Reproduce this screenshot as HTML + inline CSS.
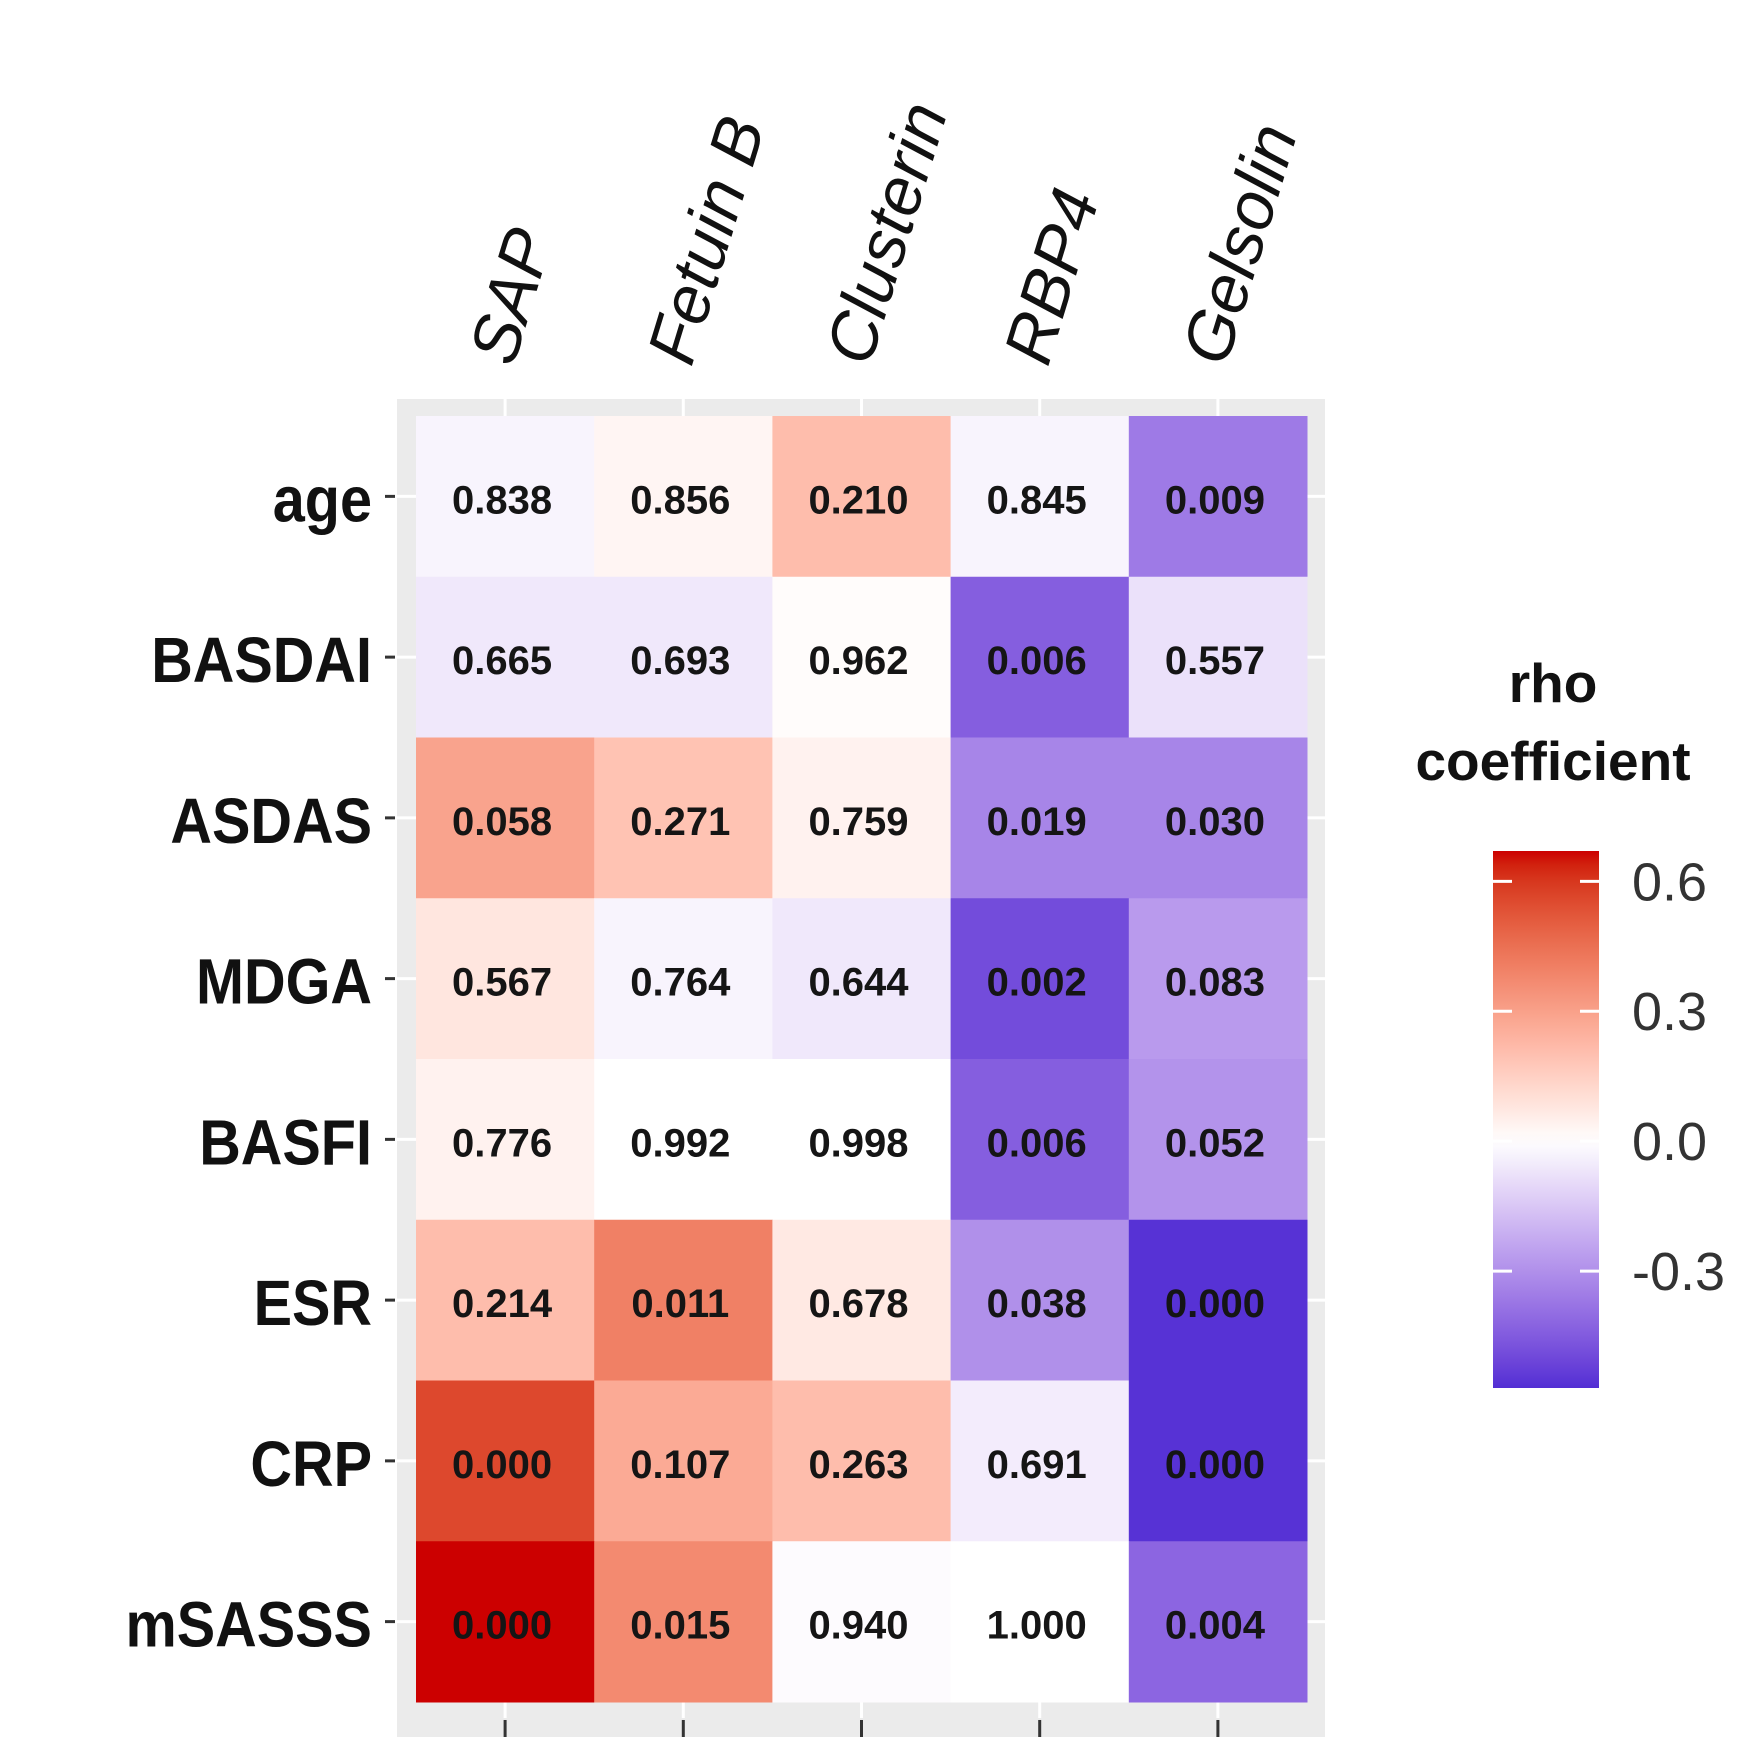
<!DOCTYPE html>
<html><head><meta charset="utf-8"><style>
html,body{margin:0;padding:0;background:#fff;}
svg{display:block;}
</style></head><body>
<svg id="chart" width="1752" height="1737" viewBox="0 0 1752 1737" xmlns="http://www.w3.org/2000/svg">
<rect x="397" y="399" width="928" height="1338" fill="#ebebeb"/>
<g id="grid"></g>
<g id="tiles"></g>
<g id="xlabels"></g>
<g id="ylabels"></g>
<g id="legend">
<defs>
<linearGradient id="grad" x1="0" y1="0" x2="0" y2="1"></linearGradient>
</defs>
<text x="1553" y="702" text-anchor="middle" font-family="Liberation Sans, sans-serif" font-weight="bold" font-size="55" fill="#111">rho</text>
<text x="1553" y="780" text-anchor="middle" font-family="Liberation Sans, sans-serif" font-weight="bold" font-size="55" fill="#111">coefficient</text>
<rect x="1493" y="851" width="106" height="537" fill="url(#grad)"/>
<g id="legticks"></g>
</g>
</svg>
<script>
const rows = ["age","BASDAI","ASDAS","MDGA","BASFI","ESR","CRP","mSASSS"];
const cols = ["SAP","Fetuin B","Clusterin","RBP4","Gelsolin"];
const rho = [
 [-0.03, 0.03, 0.21, -0.03, -0.36],
 [-0.06, -0.06, 0.01, -0.44, -0.08],
 [0.29, 0.19, 0.04, -0.33, -0.33],
 [0.08, -0.03, -0.06, -0.49, -0.27],
 [0.04, 0.0, 0.0, -0.44, -0.29],
 [0.21, 0.40, 0.07, -0.30, -0.56],
 [0.56, 0.27, 0.21, -0.05, -0.56],
 [0.67, 0.37, -0.01, 0.0, -0.42]
];
const pvals = [
 ["0.838","0.856","0.210","0.845","0.009"],
 ["0.665","0.693","0.962","0.006","0.557"],
 ["0.058","0.271","0.759","0.019","0.030"],
 ["0.567","0.764","0.644","0.002","0.083"],
 ["0.776","0.992","0.998","0.006","0.052"],
 ["0.214","0.011","0.678","0.038","0.000"],
 ["0.000","0.107","0.263","0.691","0.000"],
 ["0.000","0.015","0.940","1.000","0.004"]
];
const legendTicks = [0.6, 0.3, 0.0, -0.3];
const legendLabels = ["0.6","0.3","0.0","-0.3"];

const NS="http://www.w3.org/2000/svg";
const X0=416, X1=1307, Y0=416, Y1=1702;
const cw=(X1-X0)/cols.length, rh=(Y1-Y0)/rows.length;
const xc=i=>X0+cw*(i+0.5), yc=j=>Y0+rh*(j+0.5);
const LMAX=0.67, LMIN=-0.57, LTOP=851, LBOT=1388;
const legY=v=>LTOP+(LMAX-v)/(LMAX-LMIN)*(LBOT-LTOP);
function mk(t,a,p){const e=document.createElementNS(NS,t);for(const k in a)e.setAttribute(k,a[k]);p.appendChild(e);return e;}
function toLin(c){c/=255;return c<=0.04045?c/12.92:Math.pow((c+0.055)/1.055,2.4);}
function fromLin(c){c=c<=0.0031308?12.92*c:1.055*Math.pow(c,1/2.4)-0.055;return Math.max(0,Math.min(255,Math.round(c*255)));}
function rgb2lab(r){const [R,G,B]=r.map(toLin);
 let x=(0.4124*R+0.3576*G+0.1805*B)/0.95047,y=0.2126*R+0.7152*G+0.0722*B,z=(0.0193*R+0.1192*G+0.9505*B)/1.08883;
 const f=t=>t>0.008856?Math.cbrt(t):7.787*t+16/116;
 const fx=f(x),fy=f(y),fz=f(z);return [116*fy-16,500*(fx-fy),200*(fy-fz)];}
function lab2rgb(l){const fy=(l[0]+16)/116,fx=fy+l[1]/500,fz=fy-l[2]/200;
 const g=t=>t*t*t>0.008856?t*t*t:(t-16/116)/7.787;
 const x=g(fx)*0.95047,y=g(fy),z=g(fz)*1.08883;
 const R=3.2406*x-1.5372*y-0.4986*z,G=-0.9689*x+1.8758*y+0.0415*z,B=0.0557*x-0.2040*y+1.0570*z;
 return [fromLin(R),fromLin(G),fromLin(B)];}
const WL=rgb2lab([255,255,255]), RL=rgb2lab([204,0,0]), BL=rgb2lab([82,46,212]);
function color(v){
  let c,f;
  if(v>=0){c=RL;f=Math.min(v/LMAX,1);} else {c=BL;f=Math.min(v/LMIN,1);}
  const m=lab2rgb(WL.map((w,k)=>w+(c[k]-w)*f));
  return `rgb(${m[0]},${m[1]},${m[2]})`;
}
const grad=document.getElementById('grad');
for(let k=0;k<=40;k++){const v=LMAX-(LMAX-LMIN)*k/40;mk('stop',{offset:k/40,'stop-color':color(v)},grad);}
const grid=document.getElementById('grid');
cols.forEach((c,i)=>{
  const l=mk('line',{x1:xc(i),x2:xc(i),y1:399,y2:1718,stroke:'#fff','stroke-width':3},grid);
  
  
  const t=mk('line',{x1:xc(i),x2:xc(i),y1:1720,y2:1737,stroke:'#333','stroke-width':3},grid);
  
  
});
rows.forEach((r,j)=>{
  const l=mk('line',{x1:397,x2:1325,y1:yc(j),y2:yc(j),stroke:'#fff','stroke-width':3},grid);
  
  
  const t=mk('line',{x1:385,x2:395,y1:yc(j),y2:yc(j),stroke:'#333','stroke-width':3},grid);
  
  
});
const tiles=document.getElementById('tiles');
rows.forEach((r,j)=>cols.forEach((c,i)=>{
  const rc=mk('rect',{x:X0+cw*i,y:Y0+rh*j,width:cw+0.5,height:rh+0.5,fill:color(rho[j][i])},tiles);
  
  
  const t=mk('text',{x:xc(i)-3,y:yc(j)+17,'text-anchor':'middle','font-family':'Liberation Sans, sans-serif','font-weight':'bold','font-size':40,fill:'#151515'},tiles);
  t.textContent=pvals[j][i];
  
  
}));
const xl=document.getElementById('xlabels');
cols.forEach((c,i)=>{
  const x=xc(i)+8, y=368;
  const t=mk('text',{x:x,y:y,transform:`rotate(-73 ${x} ${y})`,'font-family':'Liberation Sans, sans-serif','font-style':'italic','font-size':68,fill:'#111'},xl);
  t.textContent=c;
  
  
});
const yl=document.getElementById('ylabels');
rows.forEach((r,j)=>{
  const t=mk('text',{x:372,y:yc(j)+25,'text-anchor':'end','font-family':'Liberation Sans, sans-serif','font-weight':'bold','font-size':64,fill:'#111',transform:`translate(372 0) scale(0.9 1) translate(-372 0)`},yl);
  t.textContent=r;
  
  
});
const lt=document.getElementById('legticks');
legendTicks.forEach((v,k)=>{
  const y=legY(v);
  const a=mk('line',{x1:1493,x2:1512,y1:y,y2:y,stroke:'#fff','stroke-width':3},lt);
  
  
  const b=mk('line',{x1:1580,x2:1599,y1:y,y2:y,stroke:'#fff','stroke-width':3},lt);
  
  
  const t=mk('text',{x:1632,y:y+19,'font-family':'Liberation Sans, sans-serif','font-size':54,fill:'#333'},lt);
  t.textContent=legendLabels[k];
  
  
});
</script>
</body></html>
